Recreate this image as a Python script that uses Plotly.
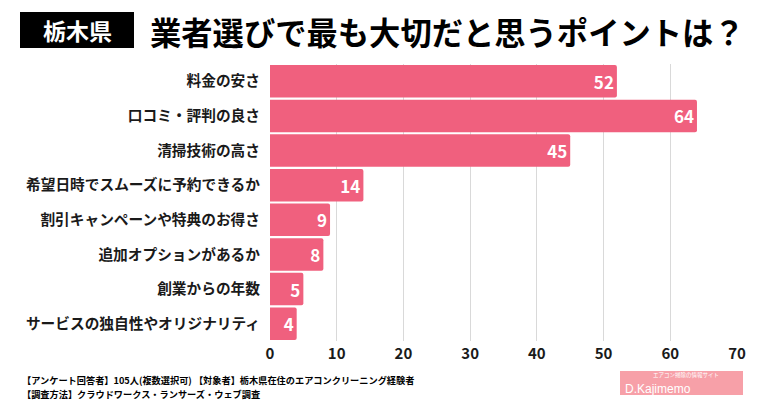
import plotly.graph_objects as go

categories = ["料金の安さ", "口コミ・評判の良さ", "清掃技術の高さ", "希望日時でスムーズに予約できるか",
              "割引キャンペーンや特典のお得さ", "追加オプションがあるか", "創業からの年数", "サービスの独自性やオリジナリティ"]
values = [52, 64, 45, 14, 9, 8, 5, 4]
tick_vals = [0, 10, 20, 30, 40, 50, 60, 70]

FONT = "Noto Sans CJK JP"
BAR = "#F0607E"

L, R, T, B = 270, 737, 64, 341
W, H = R - L, B - T
def px(x): return (x - L) / W
def py(y): return (B - y) / H

fig = go.Figure(go.Bar(
    y=categories, x=values, orientation="h",
    marker=dict(color=BAR, line=dict(width=0), cornerradius=2),
    text=values, textposition="inside", insidetextanchor="end",
    textfont=dict(color="white", size=17, family=FONT, weight="bold"),
    hoverinfo="none",
))

fig.update_layout(
    width=760, height=400,
    margin=dict(l=L, r=760 - R, t=T, b=400 - B, autoexpand=False),
    paper_bgcolor="white", plot_bgcolor="white",
    bargap=0.06, showlegend=False,
    font=dict(family=FONT, color="#222"),
    xaxis=dict(range=[0, 70], tickvals=tick_vals, showgrid=True, gridcolor="#d9d9d9", gridwidth=1,
               zeroline=False, tickfont=dict(size=15, family=FONT, weight="bold", color="#1a1a1a"),
               ticks="", automargin=False, ticklabelstandoff=2),
    yaxis=dict(autorange="reversed", tickfont=dict(size=14.7, family=FONT, weight="bold", color="#1a1a1a"),
               ticks="", ticklabelstandoff=9, showline=False, automargin=False),
)

# title box
fig.add_shape(type="rect", xref="paper", yref="paper",
              x0=px(20), x1=px(134), y0=py(12), y1=py(48),
              fillcolor="black", line=dict(width=0))
fig.add_annotation(xref="paper", yref="paper", x=px(77), y=py(30), yanchor="middle", xanchor="center",
                   text="栃木県", showarrow=False,
                   font=dict(size=23, color="white", family=FONT, weight="bold"))
fig.add_annotation(xref="paper", yref="paper", x=px(148), y=py(31), xanchor="left", yanchor="middle",
                   text="業者選びで最も大切だと思うポイントは？", showarrow=False,
                   font=dict(size=31.3, color="black", family=FONT, weight="bold"))

# footer
fig.add_annotation(xref="paper", yref="paper", x=px(20), y=py(380), xanchor="left", yanchor="middle",
                   text="【アンケート回答者】105人(複数選択可) 【対象者】栃木県在住のエアコンクリーニング経験者",
                   showarrow=False, font=dict(size=9.2, color="black", family=FONT, weight="bold"))
fig.add_annotation(xref="paper", yref="paper", x=px(20), y=py(394), xanchor="left", yanchor="middle",
                   text="【調査方法】クラウドワークス・ランサーズ・ウェブ調査",
                   showarrow=False, font=dict(size=9.2, color="black", family=FONT, weight="bold"))

# logo approximation
fig.add_shape(type="rect", xref="paper", yref="paper",
              x0=px(620), x1=px(743), y0=py(371), y1=py(395),
              fillcolor="#F7A0A8", line=dict(width=0))
fig.add_annotation(xref="paper", yref="paper", x=px(624), y=py(388.5), xanchor="left", yanchor="middle",
                   text="D.Kajimemo", showarrow=False, borderpad=0,
                   font=dict(size=12, color="white", family="Liberation Sans"))
fig.add_annotation(xref="paper", yref="paper", x=px(652), y=py(375), xanchor="left", yanchor="middle",
                   text="エアコン掃除の情報サイト", showarrow=False, borderpad=0,
                   font=dict(size=5.5, color="white", family=FONT))

fig.write_html("out.html", config={"displayModeBar": False},
               post_script="document.body.style.margin='0';")
